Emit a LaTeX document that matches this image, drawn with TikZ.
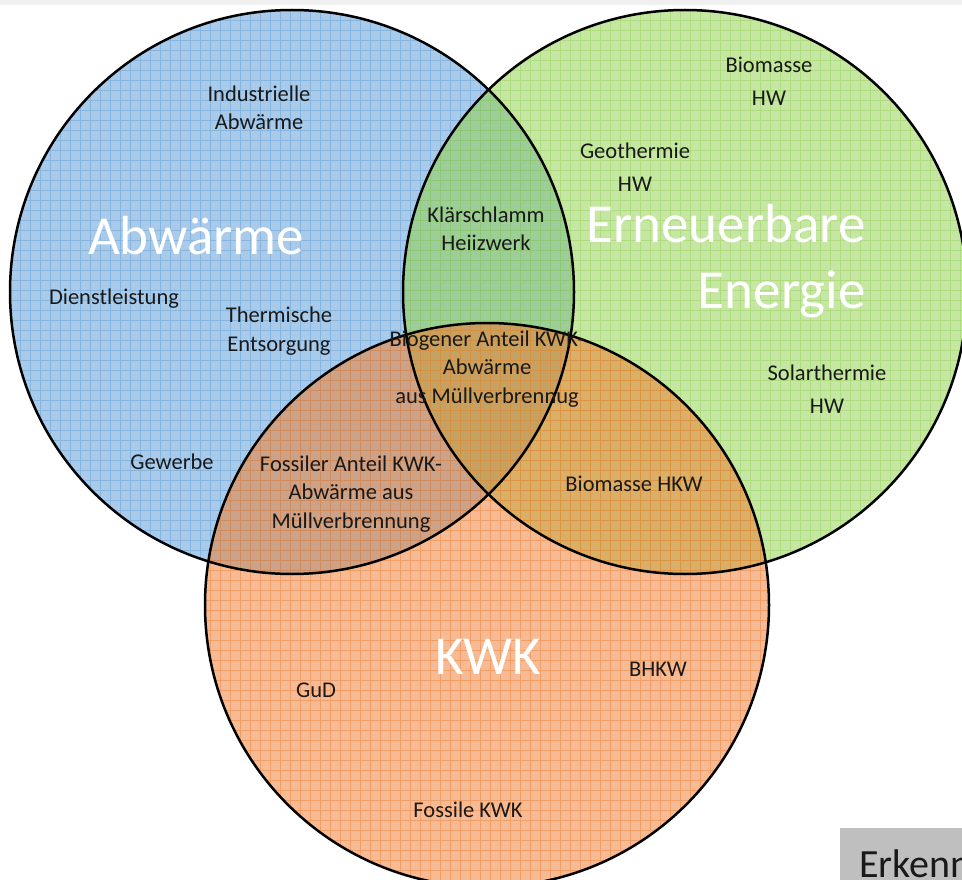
\documentclass[tikz,border=0pt]{standalone}
\usepackage{fontspec}
\setmainfont{Carlito}
\definecolor{cblue}{HTML}{5B9BD5}
\definecolor{cgreen}{HTML}{92D050}
\definecolor{corange}{HTML}{ED7D31}
\definecolor{topgray}{HTML}{F0F0F0}
\definecolor{boxgray}{HTML}{BFBFBF}
\begin{document}
\begin{tikzpicture}[x=1pt,y=-1pt,
  lbl/.style={align=center,text=black!90,font=\fontsize{22.5}{28.5}\selectfont,inner sep=0pt},
  lblhw/.style={lbl,font=\fontsize{22.5}{33}\selectfont},
  big/.style={text=white,font=\fontsize{55}{66}\selectfont,inner sep=0pt},
  ring/.style={draw=black,line width=2.5pt}]
\useasboundingbox (0,0) rectangle (962,880);
\fill[topgray] (0,0) rectangle (962,5);
% circles
\coordinate (cA) at (292,292);
\coordinate (cE) at (685,292);
\coordinate (cK) at (487,605);
\foreach \c/\col in {cA/cblue,cE/cgreen,cK/corange}{
  \begin{scope}
    \clip (\c) circle [radius=282pt];
    \fill[\col,opacity=0.52] (\c) circle [radius=282pt];
    \draw[\col,opacity=0.45,line width=0.9pt,step=10pt] (-10,-10) grid (980,900);
  \end{scope}
}
\draw[ring] (cA) circle [radius=282pt];
\draw[ring] (cE) circle [radius=282pt];
\draw[ring] (cK) circle [radius=282pt];
% big labels
\node[big] (tA) at (196,236) {Abwärme};
\node[big,align=right] (tE) at (726,261) {Erneuerbare\\Energie};
\node[big] (tK) at (488,657) {KWK};
% small labels
\node[lbl] (ind) at (259,108) {Industrielle\\Abwärme};
\node[lbl] (dien) at (114,299) {Dienstleistung};
\node[lbl] (therm) at (279,331) {Thermische\\Entsorgung};
\node[lbl] (gew) at (172,462) {Gewerbe};
\node[lbl] (klaer) at (486,229) {Klärschlamm\\Heiizwerk};
\node[lbl] (biog) at (487,369) {Biogener Anteil KWK-\\Abwärme\\aus Müllverbrennug};
\node[lbl] (foss) at (351,494) {Fossiler Anteil KWK-\\Abwärme aus\\Müllverbrennung};
\node[lbl] (bhkw2) at (634,484) {Biomasse HKW};
\node[lblhw] (biohw) at (769,81) {Biomasse\\HW};
\node[lblhw] (geo) at (635,167) {Geothermie\\HW};
\node[lblhw] (sol) at (827,389) {Solarthermie\\HW};
\node[lbl] (bhkw) at (658,669) {BHKW};
\node[lbl] (gud) at (316,690) {GuD};
\node[lbl] (fkwk) at (468,810) {Fossile KWK};
% bottom-right box
\begin{scope}
  \clip (0,0) rectangle (962,880);
  \fill[boxgray] (840,828) rectangle (970,890);
  \node[anchor=base west,inner sep=0pt,font=\fontsize{40}{48}\selectfont,text=black!90] (erk) at (859,877) {Erkenn};
\end{scope}
\end{tikzpicture}
\end{document}
